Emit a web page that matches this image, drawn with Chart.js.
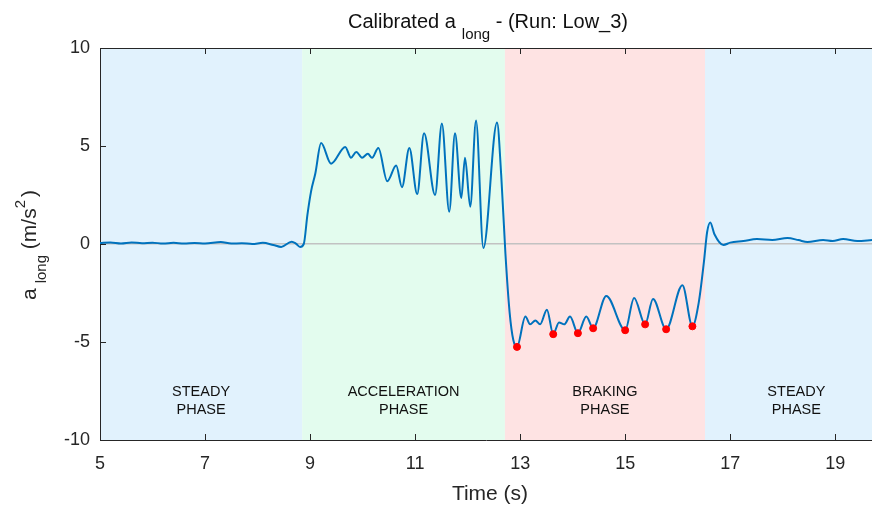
<!DOCTYPE html>
<html>
<head>
<meta charset="utf-8">
<script src="https://cdn.jsdelivr.net/npm/chart.js@4"></script>
<style>
  html, body { margin: 0; padding: 0; background: #fff; }
  #wrap { width: 872px; height: 507px; }
</style>
</head>
<body>
<div id="wrap"><canvas id="chart" width="872" height="507"></canvas></div>
<script>
// Signal (time in s, a_long in m/s^2)
const timeS = [
  5.0, 5.2, 5.4, 5.6, 5.8, 6.0, 6.2, 6.4, 6.6, 6.8, 7.0, 7.3, 7.5, 7.7, 7.9, 8.1, 8.3, 8.45, 8.65, 8.73, 8.81,
  8.88, 8.95, 9.02, 9.10, 9.21, 9.40, 9.67, 9.78, 9.88, 9.99, 10.10, 10.18, 10.30, 10.47, 10.64, 10.75,
  10.89, 11.04, 11.17, 11.38, 11.51, 11.65, 11.76, 11.88, 11.95, 12.05, 12.16, 12.30, 12.56, 12.64, 12.72,
  12.80, 12.87, 12.94, 13.10, 13.19, 13.29, 13.38, 13.51, 13.63, 13.74, 13.84, 13.95, 14.10, 14.26, 14.39,
  14.64, 15.00, 15.17, 15.38, 15.53, 15.78, 16.09, 16.28, 16.40, 16.50, 16.56, 16.62, 16.70, 16.87, 17.0,
  17.25, 17.51, 17.8, 18.09, 18.3, 18.47, 18.77, 18.95, 19.15, 19.42, 19.7
];
const accel = [
  0.05, 0.08, 0.03, 0.08, 0.04, 0.07, 0.02, 0.06, 0.02, 0.05, 0.03, 0.10, 0.02, 0.04, 0.0, 0.06, -0.05, -0.15, 0.12, 0.02, -0.15,
  0.0, 1.5, 2.7, 3.6, 5.15, 4.1, 4.95, 4.4, 4.7, 4.4, 4.6, 4.4, 4.9, 3.2, 4.0, 2.9,
  4.9, 2.55, 5.65, 2.5, 6.15, 1.65, 5.65, 2.35, 4.4, 1.9, 6.3, -0.2, 6.2, 3.5, -0.5,
  -3.5, -4.9, -5.25, -3.7, -4.1, -3.9, -4.1, -3.35, -4.6, -4.0, -4.1, -3.7, -4.55, -3.7, -4.3,
  -2.65, -4.4, -2.75, -4.1, -2.8, -4.35, -2.1, -4.2, -3.0, -0.9, 0.6, 1.1, 0.5, -0.05, 0.07,
  0.15, 0.25, 0.2, 0.3, 0.2, 0.1, 0.2, 0.15, 0.25, 0.15, 0.2
];

// Detected minima in the braking phase (red markers)
const minTimes = [12.94, 13.63, 14.10, 14.39, 15.00, 15.38, 15.78, 16.28];
const minValues = [-5.25, -4.6, -4.55, -4.3, -4.4, -4.1, -4.35, -4.2];

// Phases: boundaries, colours and labels
const phaseStart = [5.0, 8.85, 12.71, 16.52];
const phaseEnd = [8.85, 12.71, 16.52, 20.0];
const phaseColors = ['#e1f2fd', '#e3fcee', '#fee3e3', '#e1f2fd'];
const phaseLabels = [['STEADY', 'PHASE'], ['ACCELERATION', 'PHASE'], ['BRAKING', 'PHASE'], ['STEADY', 'PHASE']];

const xTicks = [5, 7, 9, 11, 13, 15, 17, 19];
const yTicks = [-10, -5, 0, 5, 10];

const FONT = '"Liberation Sans", Arial, sans-serif';
const TEXT = '#262626';

// draws a run of [text, font, yOffset, gapAfter] pieces centred on cx
function drawPieces(ctx, pieces, cx, baseY) {
  let w = 0;
  pieces.forEach(p => { ctx.font = p[1]; w += ctx.measureText(p[0]).width + (p[3] || 0); });
  let px = cx - w / 2;
  pieces.forEach(p => {
    ctx.font = p[1];
    ctx.fillText(p[0], px, baseY + p[2]);
    px += ctx.measureText(p[0]).width + (p[3] || 0);
  });
}

// backgrounds for each phase, behind the grid and the line
const phasePlugin = {
  id: 'phases',
  beforeDraw(chart) {
    const { ctx, chartArea: a, scales: { x } } = chart;
    ctx.save();
    ctx.beginPath();
    ctx.rect(a.left, a.top, a.right - a.left, a.bottom - a.top);
    ctx.clip();
    phaseStart.forEach((s, i) => {
      const x0 = x.getPixelForValue(s);
      const x1 = x.getPixelForValue(phaseEnd[i]);
      ctx.fillStyle = phaseColors[i];
      ctx.fillRect(x0, a.top, x1 - x0, a.bottom - a.top);
    });
    ctx.restore();
  },
  afterDatasetsDraw(chart) {
    const { ctx, chartArea: a, scales: { x, y } } = chart;
    ctx.save();
    ctx.fillStyle = '#111';
    ctx.font = '14.5px ' + FONT;
    ctx.textAlign = 'center';
    ctx.textBaseline = 'middle';
    phaseStart.forEach((s, i) => {
      const cx = x.getPixelForValue((s + phaseEnd[i]) / 2);
      ctx.fillText(phaseLabels[i][0], cx, y.getPixelForValue(-7.55));
      ctx.fillText(phaseLabels[i][1], cx, y.getPixelForValue(-8.48));
    });

    // box top line and small inward ticks
    ctx.strokeStyle = TEXT;
    ctx.lineWidth = 1;
    ctx.beginPath();
    ctx.moveTo(a.left, a.top + 0.5);
    ctx.lineTo(a.right, a.top + 0.5);
    xTicks.forEach(t => {
      const px = Math.round(x.getPixelForValue(t)) + 0.5;
      ctx.moveTo(px, a.bottom); ctx.lineTo(px, a.bottom - 6);
      ctx.moveTo(px, a.top); ctx.lineTo(px, a.top + 6);
    });
    yTicks.forEach(t => {
      const py = Math.round(y.getPixelForValue(t)) + 0.5;
      ctx.moveTo(a.left, py); ctx.lineTo(a.left + 6, py);
    });
    ctx.stroke();
    ctx.restore();
  },
  afterDraw(chart) {
    const { ctx } = chart;
    ctx.save();
    ctx.textBaseline = 'alphabetic';
    ctx.textAlign = 'left';

    // title with subscript
    ctx.fillStyle = '#111';
    drawPieces(ctx, [
      ['Calibrated a', '20px ' + FONT, 0, 6],
      ['long', '15px ' + FONT, 11, 0],
      [' - (Run: Low_3)', '20px ' + FONT, 0, 0]
    ], 488, 28);

    // x axis title
    ctx.fillStyle = TEXT;
    drawPieces(ctx, [['Time (s)', '21px ' + FONT, 0, 0]], 490, 500);

    // y axis title, rotated, with subscript and superscript
    ctx.translate(36, 245);
    ctx.rotate(-Math.PI / 2);
    drawPieces(ctx, [
      ['a', '21px ' + FONT, 0, 5],
      ['long', '15px ' + FONT, 10, 0],
      [' (m/s', '21px ' + FONT, 0, 0],
      ['2', '15px ' + FONT, -11, 3],
      [')', '21px ' + FONT, 0, 0]
    ], 0, 0);
    ctx.restore();
  }
};

new Chart(document.getElementById('chart'), {
  type: 'line',
  data: {
    datasets: [
      {
        data: timeS.map((t, i) => ({ x: t, y: accel[i] })),
        borderColor: '#0072bd',
        borderWidth: 2,
        pointRadius: 0,
        cubicInterpolationMode: 'monotone',
        order: 2
      },
      {
        data: minTimes.map((t, i) => ({ x: t, y: minValues[i] })),
        showLine: false,
        pointRadius: 3.5,
        pointBackgroundColor: '#ff0000',
        pointBorderColor: '#ff0000',
        order: 1
      }
    ]
  },
  options: {
    responsive: false,
    animation: false,
    layout: { autoPadding: false, padding: { top: 48, right: 0, left: 0, bottom: 0 } },
    plugins: { legend: { display: false }, tooltip: { enabled: false }, title: { display: false } },
    scales: {
      x: {
        type: 'linear',
        min: 5,
        max: 19.7,
        afterBuildTicks: s => { s.ticks = xTicks.map(v => ({ value: v })); },
        afterFit: s => { s.height = 67; },
        grid: { display: false, drawTicks: false },
        border: { display: true, color: TEXT, width: 1 },
        ticks: { color: TEXT, font: { family: FONT, size: 18 }, padding: 13, maxRotation: 0 }
      },
      y: {
        min: -10,
        max: 10,
        afterBuildTicks: s => { s.ticks = yTicks.map(v => ({ value: v })); },
        afterFit: s => { s.width = 100; },
        grid: {
          drawTicks: false,
          color: c => (c.tick && c.tick.value === 0 ? '#c2c2c2' : 'rgba(0,0,0,0)'),
          lineWidth: 1.5
        },
        border: { display: true, color: TEXT, width: 1 },
        ticks: { color: TEXT, font: { family: FONT, size: 18 }, padding: 10 }
      }
    }
  },
  plugins: [phasePlugin]
});
</script>
</body>
</html>
